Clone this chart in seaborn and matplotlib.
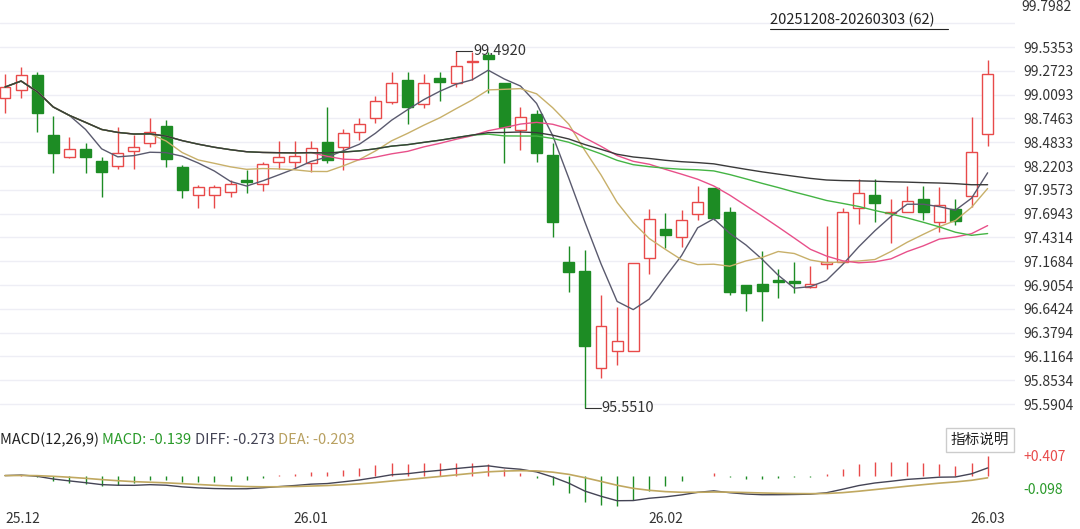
import numpy as np
import pandas as pd
import matplotlib
matplotlib.use("Agg")
import matplotlib.pyplot as plt
import seaborn as sns

opens  = [98.972,99.060,99.226,98.563,98.320,98.408,98.276,98.220,98.386,98.475,
          98.662,98.209,97.900,97.900,97.933,98.066,98.021,98.265,98.265,98.253,
          98.486,98.430,98.596,98.751,98.928,99.171,98.906,99.193,99.138,99.370,
          99.447,99.138,98.618,98.795,98.342,97.160,97.060,95.988,96.176,96.176,
          97.204,97.524,97.436,97.690,97.977,97.712,96.905,96.917,96.961,96.950,
          96.883,97.137,97.160,97.756,97.900,97.701,97.712,97.856,97.602,97.745,
          97.889,98.574]
closes = [99.093,99.226,98.806,98.364,98.408,98.320,98.154,98.364,98.430,98.596,
          98.298,97.955,97.988,97.988,98.021,98.044,98.242,98.320,98.331,98.419,
          98.287,98.585,98.685,98.939,99.138,98.872,99.138,99.149,99.325,99.381,
          99.403,98.651,98.762,98.364,97.602,97.049,96.231,96.452,96.287,97.149,
          97.635,97.458,97.624,97.823,97.646,96.828,96.817,96.839,96.939,96.928,
          96.917,97.160,97.712,97.922,97.812,97.712,97.833,97.712,97.789,97.613,
          98.375,99.237]
highs  = [99.237,99.314,99.259,98.773,98.541,98.475,98.320,98.651,98.563,98.751,
          98.729,98.231,98.010,98.010,98.066,98.176,98.265,98.497,98.497,98.497,
          98.872,98.629,98.751,98.994,99.259,99.259,99.237,99.259,99.492,99.480,
          99.480,99.138,98.872,98.839,98.475,97.336,97.292,96.795,96.662,97.149,
          97.745,97.701,97.734,98.000,97.977,97.767,96.905,97.281,97.082,97.160,
          97.116,97.557,97.756,98.077,98.077,97.856,98.000,98.000,97.988,97.856,
          98.762,99.392]
lows   = [98.806,98.972,98.596,98.143,98.309,98.143,97.878,98.187,98.187,98.430,
          98.209,97.867,97.756,97.756,97.878,97.922,97.944,98.187,98.187,98.154,
          98.253,98.176,98.508,98.696,98.906,98.685,98.861,98.939,99.093,99.171,
          99.027,98.253,98.397,98.265,97.436,96.828,95.551,95.878,96.021,96.176,
          97.027,97.314,97.325,97.624,97.624,96.795,96.618,96.508,96.762,96.817,
          96.872,97.082,97.149,97.579,97.602,97.370,97.712,97.624,97.491,97.569,
          97.767,98.442]
ytick_vals = [99.5353,99.2723,99.0093,98.7463,98.4833,98.2203,97.9573,97.6943,
              97.4314,97.1684,96.9054,96.6424,96.3794,96.1164,95.8534,95.5904]
ytop_label = "99.7982"
xtick_pos = [0, 19, 41, 61]
xtick_labels = ["25.12", "26.01", "26.02", "26.03"]
ma_windows = [5, 10, 20, 30, 60]
ma_colors = ["#5a5a6e", "#c8b06a", "#e8508a", "#44b444", "#3a3a3a"]

RED = "#e84a4a"; GREEN = "#1d8c24"

sns.set_theme(style="white")
plt.rcParams['font.family'] = ['Noto Sans CJK SC', 'DejaVu Sans']

df = pd.DataFrame({"i": np.arange(len(closes)), "o": opens, "c": closes, "h": highs, "l": lows})
W, H = 1080, 529
fig = plt.figure(figsize=(W/100, H/100), dpi=100)
ax = fig.add_axes([0, 1-418/H, 1015/W, 418/H])
ax2 = fig.add_axes([0, 1-508/H, 1015/W, 80/H])

for a in (ax, ax2):
    for s in a.spines.values():
        s.set_visible(False)

xl = (-0.31, 62.7)
ax.set_xlim(*xl); ax2.set_xlim(*xl)
ax.set_ylim(95.436, 100.055)
for v in ytick_vals:
    ax.axhline(v, color="#eeeef5", lw=1, zorder=0)
ax.axhline(99.7982, color="#eeeef5", lw=1, zorder=0)
ax.yaxis.tick_right()
ax.set_yticks(ytick_vals)
ax.set_yticklabels([f"{v:.4f}" for v in ytick_vals], fontsize=10, color="#333333")
ax.tick_params(axis="y", length=0, pad=6)
ax.set_xticks([])
fig.text(1021/W, 1-7/H, ytop_label, fontsize=10, color="#333333", va="center")

up = df[df.c >= df.o]; dn = df[df.c < df.o]
ax.vlines(up.i, up.l, up.h, color=RED, lw=1, zorder=2)
ax.vlines(dn.i, dn.l, dn.h, color=GREEN, lw=1, zorder=2)
ax.bar(up.i, np.maximum(up.c-up.o, 0.01), bottom=up.o, width=0.68, color="white", edgecolor=RED, lw=1, zorder=3)
ax.bar(dn.i, np.maximum(dn.o-dn.c, 0.01), bottom=dn.c, width=0.68, color=GREEN, edgecolor=GREEN, lw=1, zorder=3)

cs = pd.Series(closes)
for w, col in zip(ma_windows, ma_colors):
    ma = cs.rolling(w, min_periods=1).mean()
    sns.lineplot(x=df.i, y=ma, ax=ax, color=col, lw=1, zorder=4)
ax.set_xlabel(""); ax.set_ylabel("")

ih = int(np.argmax(highs)); il = int(np.argmin(lows))
ax.plot([ih, ih+1], [highs[ih], highs[ih]], color="#333", lw=0.8)
ax.text(ih+1.05, highs[ih], f"{highs[ih]:.4f}", fontsize=10.5, va="center", color="#333")
ax.plot([il, il+1], [lows[il], lows[il]], color="#333", lw=0.8)
ax.text(il+1.05, lows[il], f"{lows[il]:.4f}", fontsize=10.5, va="center", color="#333")

fig.text(770/W, 1-20/H, "20251208-20260303 (62)", fontsize=10.5, color="#222", va="center")
fig.add_artist(plt.Line2D([770/W, 948/W], [1-29/H, 1-29/H], color="#222", lw=0.8))

ema12 = cs.ewm(span=12, adjust=False).mean()
ema26 = cs.ewm(span=26, adjust=False).mean()
diff = ema12 - ema26
dea = diff.ewm(span=9, adjust=False).mean()
hist = 2*(diff - dea)
ax2.vlines(df.i, 0, hist, colors=[RED if h >= 0 else GREEN for h in hist], lw=1)
sns.lineplot(x=df.i, y=diff, ax=ax2, color="#444455", lw=1)
sns.lineplot(x=df.i, y=dea, ax=ax2, color="#c0a860", lw=1.2)
ax2.set_xlabel(""); ax2.set_ylabel("")
lo = min(diff.min(), dea.min(), hist.min()); hi = max(diff.max(), dea.max(), hist.max())
r = hi - lo
ax2.set_ylim(lo - 0.03*r, hi + 0.55*r)
ax2.yaxis.tick_right()
ax2.set_yticks([hi, lo + 0.35*r])
ax2.set_yticklabels(["+0.407", "-0.098"], fontsize=10)
ax2.get_yticklabels()[0].set_color(RED); ax2.get_yticklabels()[1].set_color("#2a9a2a")
ax2.tick_params(axis="y", length=0, pad=6)
ax2.set_xticks(xtick_pos)
ax2.set_xticklabels(xtick_labels, fontsize=10, color="#333")
ax2.tick_params(axis="x", length=0, pad=3)
ax2.get_xticklabels()[0].set_horizontalalignment("left")
ax2.set_xticks(xtick_pos)

y0 = 1-440/H
parts = [("MACD(12,26,9) ", "#222"), ("MACD: -0.139 ", "#2a9a2a"), ("DIFF: -0.273 ", "#444455"), ("DEA: -0.203", "#b8a060")]
x = 0
rend = fig.canvas.get_renderer()
for s, c in parts:
    t = fig.text(x, y0, s, fontsize=10.5, color=c, va="center")
    x += t.get_window_extent(renderer=rend).width / W
fig.text(980/W, 1-440/H, "指标说明", fontsize=10.5, color="#222", ha="center", va="center",
         bbox=dict(boxstyle="square,pad=0.35", fc="white", ec="#cccccc"))

fig.savefig("out.png", dpi=100)
